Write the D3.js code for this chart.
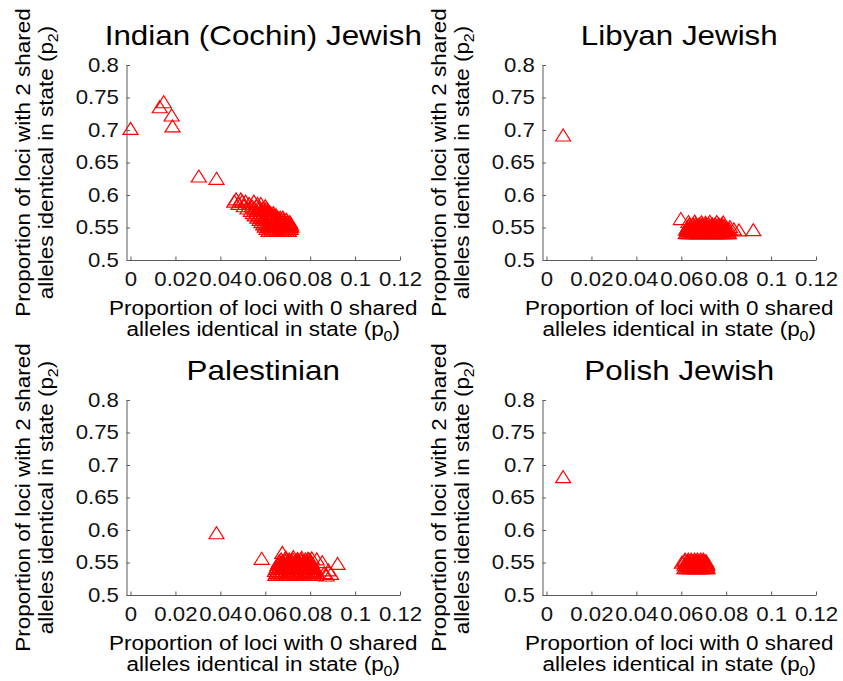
<!DOCTYPE html>
<html>
<head>
<meta charset="utf-8">
<script src="https://cdn.jsdelivr.net/npm/d3@7"></script>
<style>
  body { margin: 0; background: #fff; }
  svg { display: block; }
</style>
</head>
<body>
<script>
// ---- chart data -----------------------------------------------------------
const panelTitles = ["Indian (Cochin) Jewish", "Libyan Jewish", "Palestinian", "Polish Jewish"];

const xTicks = [0, 0.02, 0.04, 0.06, 0.08, 0.1, 0.12];
const xTickLabels = ["0", "0.02", "0.04", "0.06", "0.08", "0.1", "0.12"];
const yTicks = [0.5, 0.55, 0.6, 0.65, 0.7, 0.75, 0.8];
const yTickLabels = ["0.5", "0.55", "0.6", "0.65", "0.7", "0.75", "0.8"];

const xLabelLine1 = "Proportion of loci with 0 shared";
const xLabelLine2 = "alleles identical in state (p";
const xLabelSub = "0";
const yLabelLine1 = "Proportion of loci with 2 shared";
const yLabelLine2 = "alleles identical in state (p";
const yLabelSub = "2";

// Isolated pairs, as [p0, p2]
const indianOutliers = [
  [0.0000,0.7026],[0.0130,0.7358],[0.0148,0.7435],[0.0183,0.7231],[0.0187,0.7062],
  [0.0304,0.6292],[0.0383,0.6257]
];
// Bulk of pairs, grouped by p2 level: [p2, [p0, p0, ...]]
const indianBulk = [
  [0.5940, [0.0470,0.0491]],
  [0.5905, [0.0462,0.0497,0.0512,0.0549]],
  [0.5870, [0.0481,0.0528,0.0566,0.0580]],
  [0.5835, [0.0505,0.0541,0.0560,0.0600]],
  [0.5800, [0.0521,0.0551,0.0575,0.0591,0.0606]],
  [0.5765, [0.0536,0.0560,0.0580,0.0595,0.0608,0.0614]],
  [0.5730, [0.0545,0.0566,0.0583,0.0597,0.0611,0.0624,0.0636]],
  [0.5695, [0.0553,0.0570,0.0587,0.0601,0.0614,0.0626,0.0638,0.0648]],
  [0.5660, [0.0565,0.0580,0.0594,0.0607,0.0619,0.0631,0.0643,0.0655,0.0666,0.0678]],
  [0.5625, [0.0575,0.0589,0.0601,0.0613,0.0624,0.0636,0.0647,0.0659,0.0670,0.0682,0.0694]],
  [0.5590, [0.0583,0.0596,0.0608,0.0619,0.0631,0.0642,0.0653,0.0665,0.0676,0.0687,0.0699,0.0709]],
  [0.5555, [0.0591,0.0603,0.0615,0.0626,0.0637,0.0648,0.0660,0.0671,0.0682,0.0693,0.0704,0.0714]],
  [0.5520, [0.0598,0.0610,0.0621,0.0632,0.0643,0.0655,0.0666,0.0677,0.0688,0.0699,0.0710,0.0716]],
  [0.5485, [0.0606,0.0617,0.0628,0.0639,0.0650,0.0662,0.0673,0.0684,0.0695,0.0706,0.0713]],
  [0.5455, [0.0615,0.0627,0.0638,0.0650,0.0661,0.0672,0.0684,0.0695,0.0705]]
];

const libyanOutliers = [
  [0.0074,0.6923],[0.0598,0.5638],[0.0817,0.5512],[0.0834,0.5478],[0.0857,0.5462],[0.0921,0.5466],
  [0.0632,0.5592],[0.0660,0.5598],[0.0690,0.5588],[0.0727,0.5596],[0.0758,0.5590],[0.0787,0.5585],
  [0.0708,0.5580]
];
const libyanBulk = [
  [0.5420, [0.0620,0.0631,0.0645,0.0655,0.0669,0.0680,0.0693,0.0707,0.0717,0.0730,0.0741,0.0755,0.0766,0.0780,0.0790,0.0803,0.0812]],
  [0.5447, [0.0626,0.0637,0.0650,0.0663,0.0674,0.0688,0.0698,0.0712,0.0723,0.0737,0.0747,0.0761,0.0772,0.0786,0.0796,0.0809]],
  [0.5474, [0.0621,0.0634,0.0645,0.0659,0.0669,0.0683,0.0696,0.0707,0.0721,0.0731,0.0745,0.0758,0.0768,0.0782,0.0793,0.0806,0.0814]],
  [0.5501, [0.0627,0.0641,0.0651,0.0665,0.0676,0.0690,0.0700,0.0714,0.0727,0.0738,0.0752,0.0762,0.0777,0.0787,0.0800]],
  [0.5528, [0.0632,0.0642,0.0657,0.0667,0.0682,0.0692,0.0706,0.0717,0.0731,0.0741,0.0756,0.0766,0.0780,0.0791]],
  [0.5555, [0.0636,0.0652,0.0664,0.0680,0.0693,0.0710,0.0722,0.0738,0.0751,0.0767,0.0780]]
];

const palestinianOutliers = [
  [0.0383,0.5958],[0.0584,0.5565],[0.0922,0.5485],[0.0854,0.5512],[0.0893,0.5333],
  [0.0881,0.5385],[0.0873,0.5308],[0.0862,0.5345],
  [0.0676,0.5655],[0.0692,0.5580],[0.0725,0.5592],[0.0744,0.5560],[0.0762,0.5580],[0.0790,0.5565],
  [0.0807,0.5572],[0.0829,0.5555]
];
const palestinianBulk = [
  [0.5318, [0.0645,0.0656,0.0669,0.0680,0.0694,0.0705,0.0716,0.0730,0.0741,0.0752,0.0766,0.0777,0.0790,0.0800,0.0814,0.0825]],
  [0.5349, [0.0650,0.0662,0.0672,0.0686,0.0698,0.0708,0.0722,0.0733,0.0746,0.0756,0.0770,0.0780,0.0793,0.0806,0.0816,0.0829]],
  [0.5377, [0.0643,0.0654,0.0668,0.0678,0.0691,0.0704,0.0714,0.0728,0.0738,0.0751,0.0764,0.0774,0.0788,0.0798,0.0812,0.0823]],
  [0.5409, [0.0648,0.0659,0.0672,0.0684,0.0695,0.0708,0.0720,0.0731,0.0744,0.0754,0.0768,0.0779,0.0790,0.0804,0.0815]],
  [0.5437, [0.0652,0.0664,0.0674,0.0688,0.0699,0.0712,0.0722,0.0736,0.0746,0.0760,0.0771,0.0782,0.0796,0.0806,0.0818]],
  [0.5469, [0.0655,0.0665,0.0679,0.0690,0.0703,0.0713,0.0727,0.0737,0.0750,0.0763,0.0773,0.0787,0.0797,0.0810]],
  [0.5497, [0.0658,0.0671,0.0681,0.0695,0.0706,0.0719,0.0729,0.0743,0.0753,0.0767,0.0777,0.0791,0.0801]],
  [0.5527, [0.0663,0.0678,0.0690,0.0706,0.0718,0.0734,0.0746,0.0762,0.0774,0.0788,0.0803]],
  [0.5554, [0.0671,0.0687,0.0707,0.0723,0.0743,0.0759,0.0779,0.0795]]
];

const polishOutliers = [
  [0.0074,0.6820],[0.0603,0.5505]
];
const polishBulk = [
  [0.5419, [0.0614,0.0624,0.0636,0.0645,0.0657,0.0667,0.0678,0.0689,0.0699,0.0710,0.0717]],
  [0.5446, [0.0619,0.0630,0.0640,0.0652,0.0661,0.0673,0.0683,0.0694,0.0705,0.0714]],
  [0.5473, [0.0615,0.0625,0.0637,0.0646,0.0658,0.0668,0.0679,0.0690,0.0700,0.0711,0.0716]],
  [0.5501, [0.0620,0.0631,0.0641,0.0653,0.0662,0.0674,0.0684,0.0695,0.0706,0.0713]],
  [0.5528, [0.0614,0.0626,0.0635,0.0647,0.0657,0.0669,0.0679,0.0689,0.0701,0.0710]],
  [0.5553, [0.0617,0.0631,0.0644,0.0659,0.0672,0.0686,0.0698]]
];

// flatten grouped rows into [p0, p2] pairs
const unpack = rows => rows.flatMap(([p2, xs]) => xs.map(p0 => [p0, p2]));

const panelData = [
  indianOutliers.concat(unpack(indianBulk)),
  libyanOutliers.concat(unpack(libyanBulk)),
  palestinianOutliers.concat(unpack(palestinianBulk)),
  polishOutliers.concat(unpack(polishBulk))
];

// ---- layout ---------------------------------------------------------------
const width = 843, height = 681;
const plotW = 273.5, plotH = 195;
const origins = [[126.5, 65], [542.5, 65], [126.5, 400], [542.5, 400]];
const FONT = "'Liberation Sans', Arial, Helvetica, sans-serif";
const AXIS_COLOR = "#5a5a5a";
const MARK_COLOR = "#ff0000";

const svg = d3.select("body").append("svg")
  .attr("width", width).attr("height", height)
  .attr("viewBox", `0 0 ${width} ${height}`)
  .style("font-family", FONT);

svg.append("rect").attr("width", width).attr("height", height).attr("fill", "#fff");

const x = d3.scaleLinear().domain([-0.0018, 0.12]).range([0, plotW]);
const y = d3.scaleLinear().domain([0.5, 0.8]).range([plotH, 0]);

// open triangle marker (MATLAB-style '^')
const triangle = "M0,-6L7.5,6L-7.5,6Z";

// text with glyphs widened horizontally in their own frame
function wideText(parent, tx, ty, rot, sx, size, anchor) {
  return parent.append("text")
    .attr("transform", `translate(${tx},${ty}) rotate(${rot}) scale(${sx},1)`)
    .attr("font-size", size)
    .attr("text-anchor", anchor)
    .attr("fill", "#000");
}

function addSubscriptLabel(textEl, main, sub) {
  textEl.append("tspan").text(main);
  textEl.append("tspan").attr("font-size", 15).attr("dy", 5).text(sub);
  textEl.append("tspan").attr("dy", -5).text(")");
}

panelData.forEach((data, i) => {
  const [ox, oy] = origins[i];
  const g = svg.append("g").attr("transform", `translate(${ox},${oy})`);

  // x axis (ticks point inward)
  const gx = g.append("g")
    .attr("transform", `translate(0,${plotH})`)
    .call(d3.axisBottom(x)
      .tickValues(xTicks)
      .tickFormat((d, k) => xTickLabels[k])
      .tickSizeInner(-3.5)
      .tickSizeOuter(0)
      .tickPadding(12));

  // y axis
  const gy = g.append("g")
    .call(d3.axisLeft(y)
      .tickValues(yTicks)
      .tickFormat((d, k) => yTickLabels[k])
      .tickSizeInner(-3.5)
      .tickSizeOuter(0)
      .tickPadding(6.9));

  [gx, gy].forEach(ax => {
    ax.attr("font-family", FONT).attr("font-size", 20);
    ax.select(".domain").attr("stroke", AXIS_COLOR);
    ax.selectAll(".tick line").attr("stroke", AXIS_COLOR);
    ax.selectAll(".tick text").attr("fill", "#111").attr("transform", "scale(1.11,1)");
  });

  // points
  g.append("g").selectAll("path")
    .data(data)
    .join("path")
    .attr("d", triangle)
    .attr("transform", d => `translate(${x(d[0])},${y(d[1])})`)
    .attr("fill", "none")
    .attr("stroke", MARK_COLOR)
    .attr("stroke-width", 1.2);

  const cx = plotW / 2;

  // title
  wideText(g, cx, -20, 0, 1.12, 28, "middle").text(panelTitles[i]);

  // x label (two lines)
  wideText(g, cx, plotH + 55, 0, 1.07, 21, "middle").text(xLabelLine1);
  addSubscriptLabel(wideText(g, cx, plotH + 75.5, 0, 1.07, 21, "middle"), xLabelLine2, xLabelSub);

  // y label (two lines, rotated)
  const cy = plotH / 2;
  wideText(g, -96.5, cy, -90, 1.07, 21, "middle").text(yLabelLine1);
  addSubscriptLabel(wideText(g, -74, cy, -90, 1.07, 21, "middle"), yLabelLine2, yLabelSub);
});
</script>
</body>
</html>
